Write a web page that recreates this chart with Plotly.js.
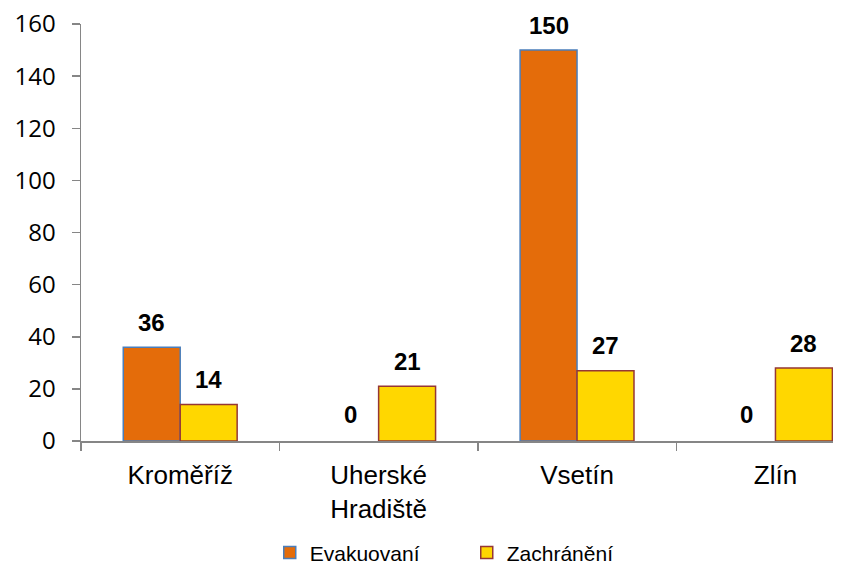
<!DOCTYPE html>
<html><head><meta charset="utf-8">
<script src="https://cdn.plot.ly/plotly-3.0.1.min.js"></script>
<style>html,body{margin:0;padding:0;background:#fff}</style>
</head><body>
<div id="chart" style="width:859px;height:564px"></div>
<script>
const categoryLabels = ["Kroměříž", "Uherské<br>Hradiště", "Vsetín", "Zlín"];
const seriesNames = ["Evakuovaní", "Zachránění"];
const evakuovani = [36, 0, 150, 0];
const zachraneni = [14, 21, 27, 28];
const yTicks = [0, 20, 40, 60, 80, 100, 120, 140, 160];

const nz = v => (v === 0 ? null : v);

const traces = [
  {type: "bar", name: seriesNames[0], x: categoryLabels, y: evakuovani.map(nz),
   marker: {color: "#E46C0A", line: {color: "#4A7EBB", width: 1.5}}, hoverinfo: "none"},
  {type: "bar", name: seriesNames[1], x: categoryLabels, y: zachraneni.map(nz),
   marker: {color: "#FFD700", line: {color: "#953735", width: 1.5}}, hoverinfo: "none"}
];

const annotations = [];
[evakuovani, zachraneni].forEach((vals, s) => {
  vals.forEach((v, i) => {
    annotations.push({x: categoryLabels[i], y: v, xref: "x", yref: "y",
      text: "<b>" + v + "</b>", showarrow: false, yanchor: "middle",
      xshift: s === 0 ? -28.5 : 28.5, yshift: v === 0 ? 27 : 25,
      font: {family: "Liberation Sans, Arial, sans-serif", size: 24, color: "#000"}});
  });
});

const layout = {
  width: 859, height: 564,
  margin: {l: 81, r: 26, t: 24, b: 123, autoexpand: false},
  paper_bgcolor: "#fff", plot_bgcolor: "#fff",
  barmode: "group", bargap: 0.426, bargroupgap: 0,
  showlegend: true,
  legend: {orientation: "h", x: 0.251, xanchor: "left", y: -0.268, yanchor: "middle",
    font: {family: "Liberation Sans, Arial, sans-serif", size: 21, color: "#000"},
    traceorder: "normal", itemwidth: 30, entrywidth: 152, entrywidthmode: "pixels"},
  xaxis: {type: "category", range: [-0.5, 3.29], showgrid: false, zeroline: false, automargin: false,
    showline: true, linecolor: "#868686", linewidth: 1.5,
    ticks: "outside", tickson: "boundaries", ticklen: 8, tickcolor: "#868686", tickwidth: 1.5,
    tickfont: {family: "Liberation Sans, Arial, sans-serif", size: 26, color: "#000"},
    ticklabelstandoff: 10},
  yaxis: {range: [0, 160], tickvals: yTicks, ticktext: yTicks.map(String), automargin: false,
    showgrid: false, zeroline: false,
    showline: true, linecolor: "#868686", linewidth: 1.5,
    ticks: "outside", ticklen: 8, tickcolor: "#868686", tickwidth: 1.5,
    tickfont: {family: "Open Sans, Liberation Sans, sans-serif", size: 24, color: "#000"},
    ticklabelstandoff: 11},
  annotations: annotations
};

Plotly.newPlot("chart", traces, layout, {displayModeBar: false, staticPlot: true});
</script>
</body></html>
